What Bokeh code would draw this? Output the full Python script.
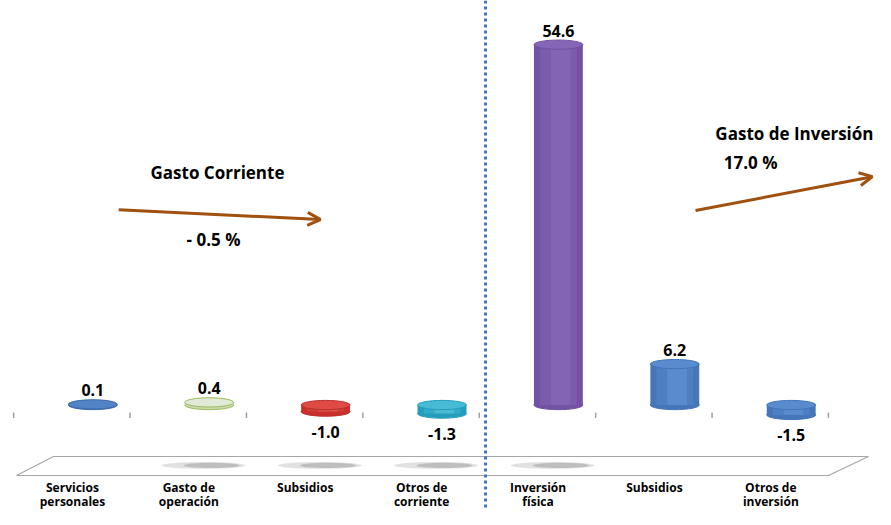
from bokeh.plotting import figure
from bokeh.models import ColumnDataSource, Range1d, Span, Arrow, OpenHead
from bokeh.core.properties import value
from bokeh.embed import file_html
from bokeh.resources import INLINE

# ---------------- data ----------------
categories = ["Servicios\npersonales", "Gasto de\noperación", "Subsidios",
              "Otros de\ncorriente", "Inversión\nfísica", "Subsidios",
              "Otros de\ninversión"]
values = [0.1, 0.4, -1.0, -1.3, 54.6, 6.2, -1.5]
value_labels = ["0.1", "0.4", "-1.0", "-1.3", "54.6", "6.2", "-1.5"]
group_titles = ["Gasto Corriente", "Gasto de Inversión"]
group_changes = ["- 0.5 %", "17.0 %"]

# ---------------- styles ----------------
body_col = ["#3B6BAA", "#CBD9AE", "#C8302B", "#249DBD", "#7352A4", "#4476B9", "#4476B9"]
top_col = ["#5283C4", "#E2E9D6", "#DE4B45", "#47BAD6", "#8565B6", "#5A8BCE", "#5A8BCE"]
hi_col = ["#6E9AD8", "#EEF3E6", "#E9716B", "#6DCFE6", "#8F70C0", "#6E9DDC", "#6E9DDC"]
edge_col = ["#3B6BAA", "#9BBB59", "#B8302B", "#249DBD", "#7150A2", "#4375B8", "#4375B8"]
FONT = "Open Sans"
BROWN = "#A0500F"

n = len(categories)
idx = list(range(n))
bar_w = 0.42
ell_h = 1.4          # ellipse height (data units)

bottoms = [min(0, v) for v in values]
tops = [max(0, v) for v in values]

src = ColumnDataSource(dict(
    x=idx, cat=categories, v=values, lab=value_labels,
    bottom=bottoms, top=tops,
    body=body_col, topc=top_col, hi=hi_col, edge=edge_col,
    hx=[i + 0.02 for i in idx],
    laby=[v + 1.2 if v >= 0 else v - 2.2 for v in values],
    labbase=["bottom" if v >= 0 else "top" for v in values],
    catx=[i - 0.175 for i in idx],
))

p = figure(width=875, height=509,
           x_range=Range1d(-0.7930, 6.7242), y_range=Range1d(-15.83, 61.29),
           output_backend="svg", toolbar_location=None,
           x_axis_location=None, y_axis_location=None, min_border=0)
p.grid.visible = False
p.outline_line_color = None
p.background_fill_color = "white"

# ---- floor (3D base) ----
tick_x = [-0.68 + i for i in range(n + 1)]
fl_y0, fl_y1 = -10.68, -7.80
floor_xs = [tick_x[0] + 0.025, tick_x[-1], tick_x[-1] + 0.344, tick_x[0] + 0.342]
floor_ys = [fl_y0, fl_y0, fl_y1, fl_y1]
p.patch(floor_xs, floor_ys, fill_color="white", line_color="#A6A6A6", line_width=1.2)

# floor shadows under some bars
sh_idx = [1, 2, 3, 4]
p.ellipse(x=[i - 0.05 for i in sh_idx], y=[-9.15] * 4, width=0.72, height=1.0,
          fill_color="#DADADA", line_color=None, fill_alpha=0.8)
p.ellipse(x=[i + 0.02 for i in sh_idx], y=[-9.15] * 4, width=0.48, height=0.8,
          fill_color="#AFAFAF", line_color=None, fill_alpha=0.7)

# ---- tick marks at zero line ----
p.segment(x0=tick_x, y0=[-1.15] * (n + 1), x1=tick_x, y1=[-1.95] * (n + 1),
          line_color="#A0A0A0", line_width=1.5)

# ---- cylinders ----
p.ellipse(x="x", y="bottom", width=bar_w, height=ell_h, source=src,
          fill_color="body", line_color="edge", line_width=1)
p.vbar(x="x", bottom="bottom", top="top", width=bar_w, source=src,
       fill_color="body", line_color=None)
p.vbar(x="x", bottom="bottom", top="top", width=bar_w * 0.75, source=src,
       fill_color="topc", line_color=None, fill_alpha=0.45)
p.vbar(x="hx", bottom="bottom", top="top", width=bar_w * 0.4, source=src,
       fill_color="hi", line_color=None, fill_alpha=0.4)
p.ellipse(x="x", y="top", width=bar_w, height=ell_h, source=src,
          fill_color="topc", line_color="edge", line_width=1)

# ---- value labels ----
p.text(x="x", y="laby", text="lab", source=src, text_align="center",
       text_baseline="labbase", text_font=value(FONT), text_font_style="bold",
       text_font_size="16px", text_color="black")

# ---- category labels ----
p.text(x="catx", y=-11.2, text="cat", source=src, text_align="center",
       text_baseline="top", text_font=value(FONT), text_font_style="bold",
       text_font_size="12px", text_color="black", text_line_height=0.85)

# ---- separator ----
p.add_layout(Span(location=3.374, dimension="height", line_color="#4472C4",
                  line_width=3, line_dash="3 3"))

# ---- group annotations ----
p.text(x=[1.071, 6.707], y=[35.23, 41.1], text=group_titles,
       text_align=["center", "right"], text_baseline="middle",
       text_font=value(FONT), text_font_style="bold", text_font_size="17px",
       text_color="black")
p.text(x=[1.037, 5.651], y=[25.1, 36.7], text=group_changes,
       text_align="center", text_baseline="middle",
       text_font=value(FONT), text_font_style="bold", text_font_size="17px",
       text_color="black")

p.add_layout(Arrow(end=OpenHead(size=13, line_color=BROWN, line_width=3),
                   x_start=0.222, y_start=29.6, x_end=1.956, y_end=28.1,
                   line_color=BROWN, line_width=3))
p.add_layout(Arrow(end=OpenHead(size=13, line_color=BROWN, line_width=3),
                   x_start=5.178, y_start=29.47, x_end=6.698, y_end=34.6,
                   line_color=BROWN, line_width=3))

open("out.html", "w").write(file_html(p, INLINE))
